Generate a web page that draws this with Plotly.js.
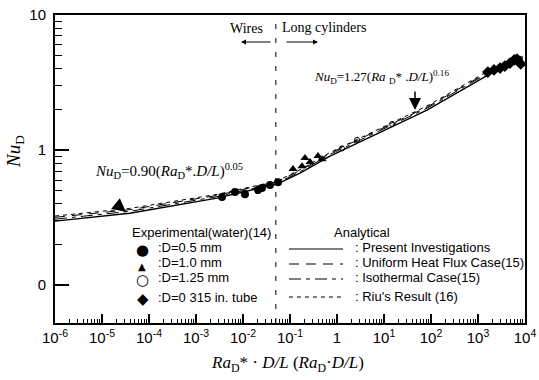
<!DOCTYPE html>
<html><head><meta charset="utf-8">
<script src="https://cdn.plot.ly/plotly-3.0.1.min.js"></script>
<style>html,body{margin:0;padding:0;background:#fff;}#chart{width:539px;height:380px;}</style>
</head><body><div id="chart"></div>
<script>
// ---- data ----
const lineX        = [1e-6, 3.9e-5, 2.8e-3, 0.053, 0.163, 0.71, 82, 1800, 9000];
const presentY     = [0.298, 0.341, 0.441, 0.560, 0.676, 0.903, 1.98, 3.66, 4.72];
const uniformY     = [0.318, 0.362, 0.462, 0.585, 0.705, 0.950, 2.08, 3.85, 4.92];
const isothermalY  = [0.308, 0.352, 0.452, 0.572, 0.690, 0.930, 2.04, 3.78, 4.85];
const riuY         = [0.325, 0.370, 0.470, 0.590, 0.715, 0.960, 2.12, 3.92, 5.00];

const d05X  = [3.57e-3, 6.76e-3, 0.0110, 0.0208, 0.0254, 0.0375, 0.0556];
const d05Y  = [0.449, 0.489, 0.472, 0.506, 0.524, 0.551, 0.579];
const d10X  = [0.116, 0.180, 0.208, 0.267, 0.394, 0.480];
const d10Y  = [0.723, 0.760, 0.873, 0.815, 0.904, 0.857];
const d125X = [1.28, 2.67, 14.8];
const d125Y = [1.03, 1.19, 1.56];
const tubeX = [1620, 2190, 2950, 3720, 4790, 5890, 6760, 8130];
const tubeY = [3.78, 3.92, 4.05, 4.19, 4.41, 4.65, 4.72, 4.34];

const regimeBoundary = 0.05;
const xTickVals = [1e-6,1e-5,1e-4,1e-3,1e-2,1e-1,1,10,100,1000,10000];
const xTickText = ['10<sup>-6</sup>','10<sup>-5</sup>','10<sup>-4</sup>','10<sup>-3</sup>','10<sup>-2</sup>','10<sup>-1</sup>','1','10<sup>1</sup>','10<sup>2</sup>','10<sup>3</sup>','10<sup>4</sup>'];
const yTickVals = [0.1, 1, 10];
const yTickText = ['0', '1', '10'];

const legend1Labels = [':D=0.5 mm', ':D=1.0 mm', ':D=1.25 mm', ':D=0 315 in. tube'];
const legend2Labels = [': Present Investigations', ': Uniform Heat Flux Case(15)', ': Isothermal Case(15)', ": Riu's Result (16)"];

// minor tick positions (axis decoration: 2..9 within each decade)
function minorTicks(e0, e1) {
  const out = [];
  for (let e = e0; e < e1; e++) for (let m = 2; m <= 9; m++) out.push(m * Math.pow(10, e));
  return out;
}
const xMinor = minorTicks(-6, 4);
const yMinor = minorTicks(-1, 1);

// ---- styles / layout helpers ----
const K = '#000';
const sans = 'Liberation Sans, Arial, sans-serif';
const serif = 'Liberation Serif, Times New Roman, serif';
const glyph = 'DejaVu Sans, sans-serif';
const dashUniform = '10px,7px';
const dashIso = '12px,5px,4px,5px';
const dashRiu = '4px,4px';
const PL = 55, PR = 525, PT = 15, PB = 323;
const X = px => (px - PL) / (PR - PL);
const Y = py => (PB - py) / (PB - PT);

const traces = [
  {x: lineX, y: riuY, mode:'lines', line:{color:K, width:1, dash:dashRiu}},
  {x: lineX, y: isothermalY, mode:'lines', line:{color:K, width:1, dash:dashIso}},
  {x: lineX, y: uniformY, mode:'lines', line:{color:K, width:1, dash:dashUniform}},
  {x: lineX, y: presentY, mode:'lines', line:{color:K, width:1.4}},
  {x: [regimeBoundary, regimeBoundary], y: [0.0525, 10], mode:'lines', line:{color:K, width:1, dash:'5px,9px'}},
  {x: d05X, y: d05Y, mode:'markers', marker:{symbol:'circle', size:8, color:K}},
  {x: d10X, y: d10Y, mode:'markers', marker:{symbol:'triangle-up', size:8, color:K}},
  {x: d125X, y: d125Y, mode:'markers', marker:{symbol:'circle-open', size:5, color:K, line:{width:1}}},
  {x: tubeX, y: tubeY, mode:'markers', marker:{symbol:'diamond', size:9, color:K}}
];
traces.forEach(t => { t.showlegend = false; t.hoverinfo = 'skip'; });

const ann = [];
function txt(px, py, text, size, family, xanchor, extra) {
  ann.push(Object.assign({xref:'paper', yref:'paper', x:X(px), y:Y(py), text:text, showarrow:false,
    xanchor:xanchor||'center', yanchor:'middle', font:{family:family, size:size, color:K}}, extra||{}));
}
// legend 1 (experimental)
txt(130, 232, 'Experimental(water)(14)', 13, sans, 'left');
legend1Labels.forEach((s, i) => txt(156, [247,262,277,297][i], s, 13, sans, 'left'));
txt(142, 250, '●', 15, glyph);
txt(142, 266, '▲', 10, glyph);
txt(142, 280, '○', 15, glyph);
txt(143, 299, '◆', 15, glyph);
// legend 2 (analytical)
txt(362, 232, 'Analytical', 13, sans, 'center');
legend2Labels.forEach((s, i) => txt(353, [247,262,277,296][i], s, 13, sans, 'left'));
const shapes = [
  ['solid', 249], [dashUniform, 264], [dashIso, 279], [dashRiu, 297]
].map(([d, py]) => ({type:'line', xref:'paper', yref:'paper', x0:X(289), x1:X(343), y0:Y(py), y1:Y(py),
  line:{color:K, width:1, dash:d}}));

txt(246, 28, 'Wires', 14, serif);
txt(324, 27, 'Long cylinders', 14, serif);
txt(381, 77, '<i>Nu</i><sub>D</sub>=1.27(<i>Ra</i> <sub>D</sub>* .<i>D/L</i>)<sup>0.16</sup>', 13, serif);
txt(169, 171, '<i>Nu</i><sub>D</sub>=0.90(<i>Ra</i><sub>D</sub>*.<i>D/L</i>)<sup>0.05</sup>', 15, serif);
txt(287, 364, '<i>Ra</i><sub>D</sub>* · <i>D/L</i> (<i>Ra</i><sub>D</sub>·<i>D/L</i>)', 17, serif);
txt(15, 152, '<i>Nu</i><sub>D</sub>', 19, serif, 'center', {textangle:-90});
// arrows
function arr(px, py, ax, ay, size, width) {
  ann.push({xref:'paper', yref:'paper', x:X(px), y:Y(py), ax:ax, ay:ay, text:'', showarrow:true,
    arrowhead:2, arrowsize:size, arrowwidth:width, arrowcolor:K});
}
arr(241, 42, 31, 0, 1, 1);
arr(318, 42, -33, 0, 1, 1);
arr(415, 110, 0, -20, 1.6, 1.5);
arr(126, 212, -11, -9, 1.8, 1.5);

const layout = {
  width:539, height:380,
  margin:{l:PL, r:539-PR, t:PT, b:380-PB},
  paper_bgcolor:'#fff', plot_bgcolor:'#fff',
  showlegend:false,
  xaxis:{type:'log', range:[-6,4], tickmode:'array', tickvals:xTickVals, ticktext:xTickText,
    ticks:'inside', ticklen:9, tickwidth:1.5, tickcolor:K, showgrid:false, zeroline:false,
    showline:true, linecolor:K, linewidth:2, mirror:true,
    tickfont:{family:sans, size:15, color:K},
    minor:{tickmode:'array', tickvals:xMinor, ticks:'inside', ticklen:4, tickwidth:1, tickcolor:K, showgrid:false}},
  yaxis:{type:'log', range:[-1.28,1], tickmode:'array', tickvals:yTickVals, ticktext:yTickText,
    ticks:'inside', ticklen:14, tickwidth:1.5, tickcolor:K, showgrid:false, zeroline:false,
    showline:true, linecolor:K, linewidth:2, mirror:true, ticklabelstandoff:4,
    tickfont:{family:sans, size:15, color:K},
    minor:{tickmode:'array', tickvals:yMinor, ticks:'inside', ticklen:7, tickwidth:1, tickcolor:K, showgrid:false}},
  shapes: shapes,
  annotations: ann
};
Plotly.newPlot('chart', traces, layout, {staticPlot:true, displayModeBar:false});
</script></body></html>
